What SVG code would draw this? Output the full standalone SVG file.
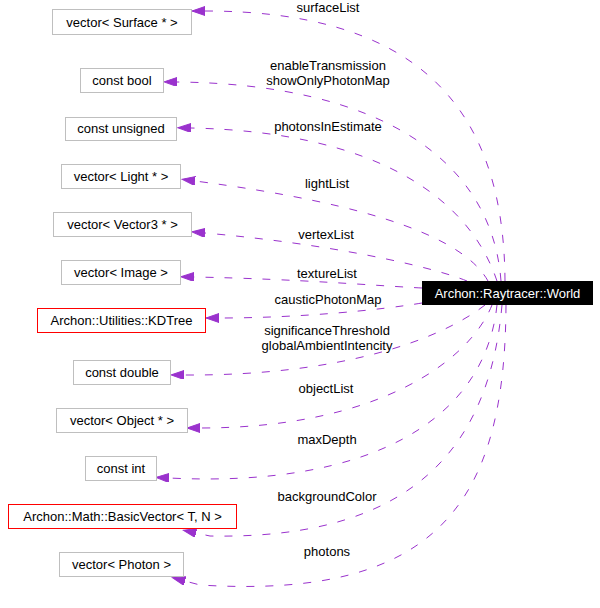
<svg xmlns="http://www.w3.org/2000/svg" width="600" height="608" viewBox="0 0 600 608">
<style>
text{font-family:"Liberation Sans",Arial,sans-serif;font-size:13px;fill:#000;text-anchor:middle}
.n rect{fill:#fff;stroke:#bfbfbf;stroke-width:1}
.n.red rect{stroke:#ff0000}
.main rect{fill:#000;stroke:#000}
.main text{fill:#fff}
.e{fill:none;stroke:#9a32cd;stroke-width:1;stroke-dasharray:8,11}
</style>
<defs>
<marker id="ah" markerUnits="userSpaceOnUse" markerWidth="14" markerHeight="10" viewBox="0 0 14 10" refX="0" refY="4.5" orient="auto">
<path d="M0,0 L13,4.5 L0,9 Z" fill="#9a32cd" stroke="#9a32cd"/>
</marker>
</defs>
<rect width="600" height="608" fill="#fff"/>
<g id="connectors">
<path class="e" marker-end="url(#ah)" d="M505,281 C504,100 410,11 205,11"/>
<path class="e" marker-end="url(#ah)" d="M501,281 C492,160 380,84 177,82"/>
<path class="e" marker-end="url(#ah)" d="M497,281 C470,200 380,132 191,128"/>
<path class="e" marker-end="url(#ah)" d="M488,281 C465,240 380,205 195,181"/>
<path class="e" marker-end="url(#ah)" d="M467,281 C430,266 330,244 205,233"/>
<path class="e" marker-end="url(#ah)" d="M422,288 C380,286 300,279 194,277"/>
<path class="e" marker-end="url(#ah)" d="M422,303 C380,310 300,318 219,318"/>
<path class="e" marker-end="url(#ah)" d="M485,305 C440,340 340,376 184,375"/>
<path class="e" marker-end="url(#ah)" d="M492,305 C470,360 380,428 200,428"/>
<path class="e" marker-end="url(#ah)" d="M497,305 C485,420 370,488 169,478"/>
<path class="e" marker-end="url(#ah)" d="M502,305 C490,440 420,540 210,536 L196,533"/>
<path class="e" marker-end="url(#ah)" d="M506,305 C505,500 440,600 200,585 L185,581"/>
<text x="328" y="12">surfaceList</text>
<text x="328" y="70">enableTransmission</text>
<text x="328" y="85">showOnlyPhotonMap</text>
<text x="328" y="131">photonsInEstimate</text>
<text x="327" y="188">lightList</text>
<text x="326" y="239">vertexList</text>
<text x="327" y="278">textureList</text>
<text x="328" y="304">causticPhotonMap</text>
<text x="327" y="335">significanceThreshold</text>
<text x="327" y="350">globalAmbientIntencity</text>
<text x="326" y="393">objectList</text>
<text x="327" y="444">maxDepth</text>
<text x="327" y="501">backgroundColor</text>
<text x="327" y="556">photons</text>
</g>
<g id="world" class="main"><rect x="422.5" y="281.5" width="170" height="23"/><text x="507.5" y="297.5">Archon::Raytracer::World</text></g>
<g id="surface" class="n"><rect x="52.5" y="9.5" width="139" height="25"/><text x="122" y="26.5">vector&lt; Surface * &gt;</text></g>
<g id="bool" class="n"><rect x="80.5" y="68.5" width="83" height="24"/><text x="122" y="85">const bool</text></g>
<g id="unsigned" class="n"><rect x="65.5" y="117.5" width="111" height="23"/><text x="121" y="133">const unsigned</text></g>
<g id="light" class="n"><rect x="61.5" y="164.5" width="119" height="24"/><text x="121" y="181">vector&lt; Light * &gt;</text></g>
<g id="vector3" class="n"><rect x="53.5" y="212.5" width="138" height="24"/><text x="122.5" y="229">vector&lt; Vector3 * &gt;</text></g>
<g id="image" class="n"><rect x="61.5" y="260.5" width="119" height="24"/><text x="121" y="277">vector&lt; Image &gt;</text></g>
<g id="kdtree" class="n red"><rect x="37.5" y="308.5" width="168" height="24"/><text x="121.5" y="325">Archon::Utilities::KDTree</text></g>
<g id="double" class="n"><rect x="73.5" y="360.5" width="97" height="24"/><text x="122" y="377">const double</text></g>
<g id="object" class="n"><rect x="56.5" y="408.5" width="131" height="24"/><text x="122" y="425">vector&lt; Object * &gt;</text></g>
<g id="int" class="n"><rect x="85.5" y="456.5" width="71" height="24"/><text x="121" y="473">const int</text></g>
<g id="basicvector" class="n red"><rect x="8.5" y="504.5" width="228" height="24"/><text x="122.5" y="521">Archon::Math::BasicVector&lt; T, N &gt;</text></g>
<g id="photon" class="n"><rect x="59.5" y="552.5" width="124" height="24"/><text x="121.5" y="569">vector&lt; Photon &gt;</text></g>
</svg>
